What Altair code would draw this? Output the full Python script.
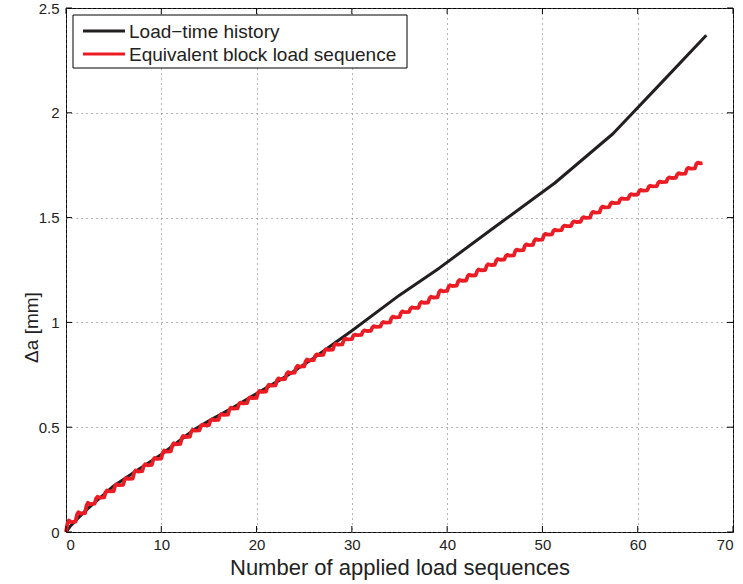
import altair as alt
import pandas as pd

# Crack growth under the recorded load-time history
black_x = [0, 0.5, 2, 5, 7, 10, 13.5, 15, 17, 20, 23, 26, 30, 35, 39.2, 45, 51.3, 57.4, 62, 67.2]
black_y = [0, 0.03, 0.10, 0.22, 0.28, 0.37, 0.49, 0.53, 0.58, 0.66, 0.74, 0.83, 0.96, 1.13, 1.26,
           1.455, 1.665, 1.90, 2.12, 2.37]

# Crack growth under the equivalent block sequence: value at the start of each block n
red_block_start = [
    0.00, 0.05, 0.09, 0.135, 0.165, 0.195, 0.225, 0.255, 0.29, 0.32,
    0.35, 0.385, 0.42, 0.455, 0.485, 0.51, 0.535, 0.56, 0.59, 0.615,
    0.64, 0.67, 0.70, 0.73, 0.76, 0.79, 0.82, 0.845, 0.87, 0.895,
    0.92, 0.94, 0.96, 0.98, 1.00, 1.025, 1.05, 1.07, 1.095, 1.12,
    1.15, 1.175, 1.20, 1.225, 1.25, 1.275, 1.30, 1.32, 1.345, 1.37,
    1.395, 1.42, 1.44, 1.46, 1.48, 1.50, 1.525, 1.55, 1.57, 1.59,
    1.61, 1.63, 1.65, 1.67, 1.69, 1.71, 1.735, 1.76,
]
red_end_x = 66.8
# growth within one block: position inside the block and share of that block's increment
step_pos = [0.0, 0.15, 0.3, 0.55]
step_frac = [0.0, 0.8, 1.1, 0.95]

x_ticks = [0, 10, 20, 30, 40, 50, 60, 70]
y_ticks = [0, 0.5, 1, 1.5, 2, 2.5]
legend_labels = ["Load\u2212time history", "Equivalent block load sequence"]
line_colors = ["#231f20", "#ec1c24"]

FONT = "Liberation Sans"
W, H = 667, 524

black_df = pd.DataFrame({"x": black_x, "y": black_y})

red_rows = []
for n in range(len(red_block_start) - 1):
    lo, hi = red_block_start[n], red_block_start[n + 1]
    for p, f in zip(step_pos, step_frac):
        if n + p > red_end_x:
            break
        red_rows.append({"x": n + p, "y": lo + f * (hi - lo)})
red_rows.append({"x": red_end_x, "y": red_block_start[-1]})
red_df = pd.DataFrame(red_rows)

xs = alt.Scale(domain=[0, 70], nice=False, zero=False)
ys = alt.Scale(domain=[0, 2.5], nice=False, zero=False)

x_axis = alt.Axis(values=x_ticks, title="Number of applied load sequences", format="~g",
                  titleFontSize=22, titleY=42, titleBaseline="alphabetic", labelPadding=5)
y_axis = alt.Axis(values=y_ticks, title="\u0394a [mm]", format="~g",
                  titleFontSize=19, titleAngle=270, titleX=-35, titleY=319,
                  titleBaseline="middle", titleAlign="center", labelPadding=7)

black = alt.Chart(black_df).mark_line(color=line_colors[0], strokeWidth=3, strokeJoin="round").encode(
    x=alt.X("x:Q", scale=xs, axis=x_axis),
    y=alt.Y("y:Q", scale=ys, axis=y_axis),
)
red = alt.Chart(red_df).mark_line(color=line_colors[1], strokeWidth=3.8, strokeJoin="round").encode(
    x=alt.X("x:Q", scale=xs),
    y=alt.Y("y:Q", scale=ys),
)

# inward tick marks on all four sides of the box
xt = pd.DataFrame({"t": x_ticks})
yt = pd.DataFrame({"t": y_ticks})
tick_len = 6
ticks_bottom = alt.Chart(xt).mark_rule(color="black", strokeWidth=1).encode(
    x=alt.X("t:Q", scale=xs), y=alt.value(H), y2=alt.value(H - tick_len))
ticks_top = alt.Chart(xt).mark_rule(color="black", strokeWidth=1).encode(
    x=alt.X("t:Q", scale=xs), y=alt.value(0), y2=alt.value(tick_len))
ticks_left = alt.Chart(yt).mark_rule(color="black", strokeWidth=1).encode(
    y=alt.Y("t:Q", scale=ys), x=alt.value(0), x2=alt.value(tick_len))
ticks_right = alt.Chart(yt).mark_rule(color="black", strokeWidth=1).encode(
    y=alt.Y("t:Q", scale=ys), x=alt.value(W), x2=alt.value(W - tick_len))

# legend box in the upper left corner
one = alt.Data(values=[{"k": 0}])
leg_box = alt.Chart(one).mark_rect(fill="white", stroke="black", strokeWidth=1).encode(
    x=alt.value(7), x2=alt.value(341), y=alt.value(7), y2=alt.value(60))
leg_layers = [leg_box]
for i, (lab, col) in enumerate(zip(legend_labels, line_colors)):
    yy = 23 + 23 * i
    d = alt.Data(values=[{"label": lab}])
    leg_layers.append(alt.Chart(d).mark_rule(color=col, strokeWidth=3).encode(
        x=alt.value(17), x2=alt.value(59), y=alt.value(yy)))
    leg_layers.append(alt.Chart(d).mark_text(align="left", baseline="middle", font=FONT,
                                             fontSize=19, color="#222").encode(
        text="label:N", x=alt.value(63), y=alt.value(yy + 1)))

chart = alt.layer(
    black, red, ticks_bottom, ticks_top, ticks_left, ticks_right, *leg_layers
).properties(
    width=W, height=H,
    autosize=alt.AutoSizeParams(type="none"),
    padding={"left": 66, "top": 8, "right": 10, "bottom": 52},
    background="white",
).configure_view(
    stroke="black", strokeWidth=1
).configure_axis(
    grid=True, gridDash=[1, 4], gridColor="#6f6f6f", gridWidth=1,
    ticks=False, domain=False,
    labelFont=FONT, labelFontSize=15, labelColor="#222",
    titleFont=FONT, titleFontWeight="normal", titleColor="#222",
)

chart.save("out.html", embed_options={"renderer": "svg", "actions": False})
